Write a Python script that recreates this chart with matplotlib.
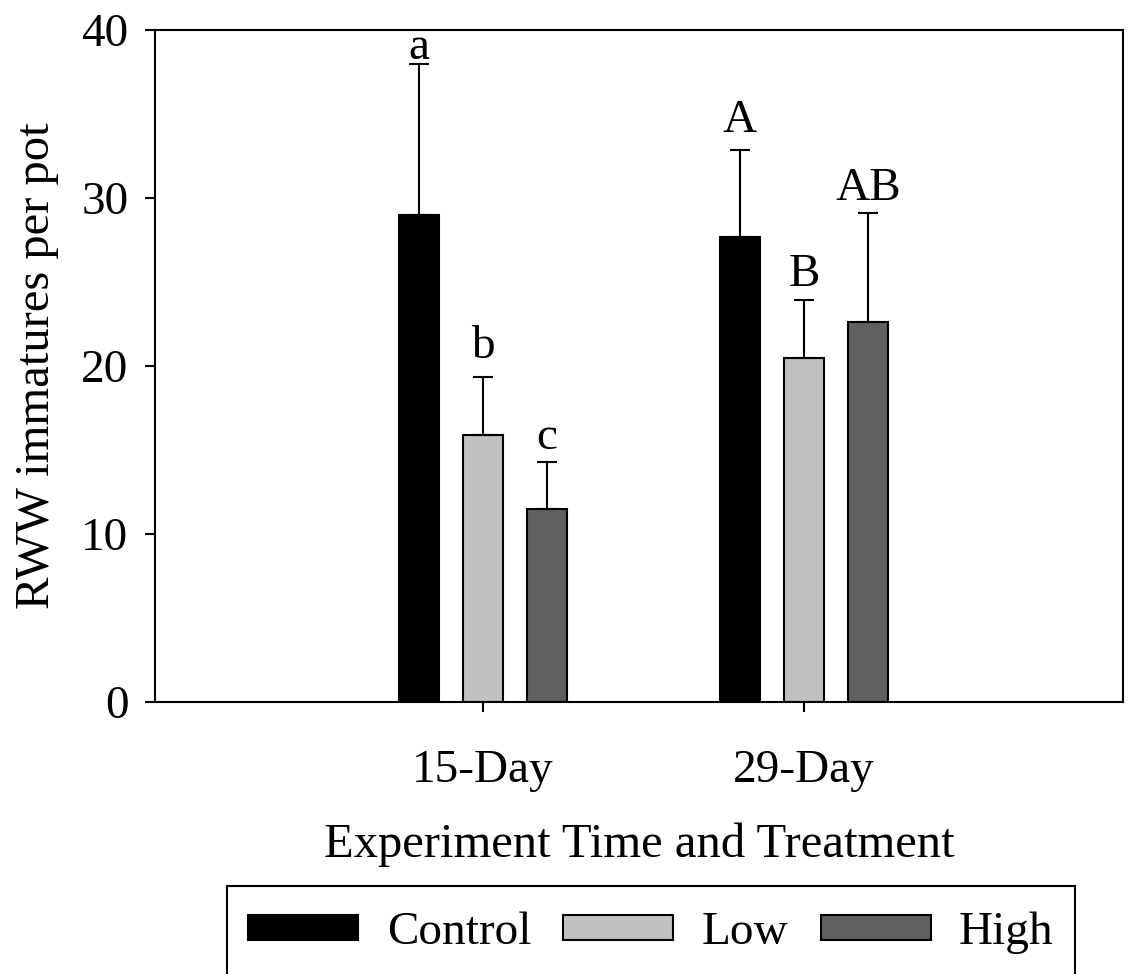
import matplotlib
matplotlib.use("Agg")
import matplotlib.pyplot as plt
from matplotlib.patches import Rectangle
import numpy as np

groups = ["15-Day", "29-Day"]
treatments = ["Control", "Low", "High"]
colors = ["#000000", "#c0c0c0", "#606060"]
means = {
    "Control": [29.0, 27.65],
    "Low": [15.9, 20.5],
    "High": [11.5, 22.6],
}
errors = {
    "Control": [9.0, 5.2],
    "Low": [3.45, 3.4],
    "High": [2.8, 6.5],
}
letters = {
    "Control": ["a", "A"],
    "Low": ["b", "B"],
    "High": ["c", "AB"],
}
letter_y = {
    "Control": [38.3, 33.9],
    "Low": [20.45, 24.75],
    "High": [15.05, 29.9],
}

plt.rcParams['font.family'] = ['Liberation Serif', 'DejaVu Serif']

W, H = 1128, 974
fig = plt.figure(figsize=(W/100, H/100), dpi=100)
ax = fig.add_axes([155/W, 1-702/H, 968/W, 672/H])

xpos = np.array([1, 2])
offsets = [-0.2, 0.0, 0.2]
width = 0.123
handles = []
for t, off, c in zip(treatments, offsets, colors):
    b = ax.bar(xpos + off, means[t], width, color=c, edgecolor='black', linewidth=1.5,
               yerr=[np.zeros(2), errors[t]], capsize=7,
               error_kw=dict(elinewidth=1.5, capthick=1.5, ecolor='black'), label=t, zorder=2)
    handles.append(b)
    for xi, lab, ly in zip(xpos + off, letters[t], letter_y[t]):
        ax.text(xi, ly, lab, ha='center', va='baseline', fontsize=34, clip_on=False)

ax.set_xlim(-0.022, 2.994)
ax.set_ylim(0, 40)
ax.set_yticks([0, 10, 20, 30, 40])
ax.set_xticks(xpos)
ax.set_xticklabels(groups)
ax.tick_params(axis='both', direction='out', length=7.2, width=1.5, labelsize=34)
ax.tick_params(axis='y', pad=12)
ax.tick_params(axis='x', pad=27)
for s in ax.spines.values():
    s.set_linewidth(1.5)
ax.set_ylabel("RWW immatures per pot", fontsize=35, labelpad=16)
ax.set_xlabel("Experiment Time and Treatment", fontsize=35, labelpad=22)

leg = fig.legend(handles=handles, labels=treatments, loc='center',
                 bbox_to_anchor=(651/W, 1-933/H), ncol=3, fontsize=34,
                 frameon=False, handlelength=2.33,
                 handleheight=0.42, columnspacing=0.68, handletextpad=0.6, borderpad=0.4,
                 borderaxespad=0)

frame = Rectangle((227/W, 1-990/H), (1075-227)/W, (990-886)/H, transform=fig.transFigure,
                  fill=False, edgecolor='black', linewidth=1.5, clip_on=False)
fig.add_artist(frame)

fig.savefig("out.png", dpi=100)
